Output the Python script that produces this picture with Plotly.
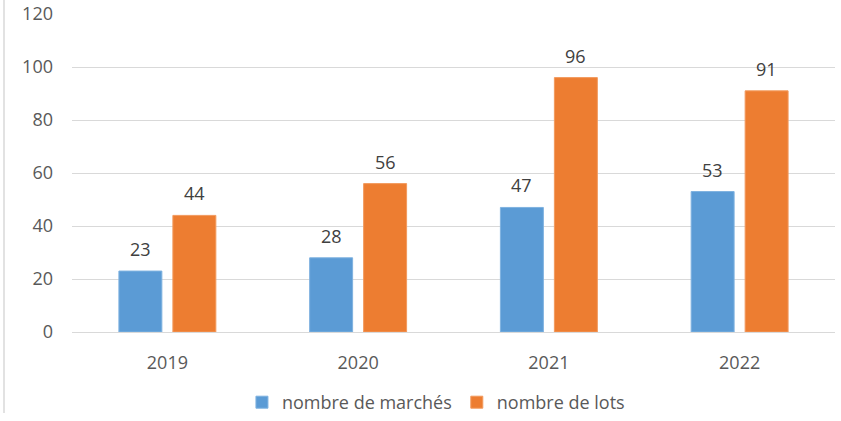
import plotly.graph_objects as go

years = ["2019", "2020", "2021", "2022"]
marches = [23, 28, 47, 53]
lots = [44, 56, 96, 91]
series_names = ["nombre de marchés", "nombre de lots"]
y_ticks = [0, 20, 40, 60, 80, 100, 120]

FONT = "Open Sans, Liberation Sans, sans-serif"
BARGAP = 0.434
W, H = 841, 421
L, R, T, B_AXIS = 72, 6, 14, 332  # plot area in page px

fig = go.Figure()
fig.add_trace(go.Bar(
    x=years, y=marches, name=series_names[0],
    marker=dict(color="#5B9BD5", line=dict(color="#7FB2E0", width=1)),
))
fig.add_trace(go.Bar(
    x=years, y=lots, name=series_names[1],
    marker=dict(color="#ED7D31", line=dict(color="#F29A5E", width=1)),
))

# value labels above bars (positions from the data via the axes)
annotations = []
off = (1 - BARGAP) / 4
for k, vals in enumerate([marches, lots]):
    sign = -1 if k == 0 else 1
    for i, v in enumerate(vals):
        annotations.append(dict(
            xref="x", yref="y", x=i + sign * off, y=v, text=str(v),
            showarrow=False, yshift=22, yanchor="middle", xanchor="center",
            font=dict(size=18, color="#404040", family=FONT),
        ))

plot_h = H - T
fig.update_layout(
    width=W, height=H,
    margin=dict(l=L, r=R, t=T, b=0),
    paper_bgcolor="white", plot_bgcolor="white",
    barmode="group", bargap=BARGAP, bargroupgap=0.204,
    font=dict(family=FONT, size=18, color="#595959"),
    showlegend=True,
    legend=dict(orientation="h", x=0.477, xanchor="center",
                y=0, yanchor="bottom",
                font=dict(size=18, color="#595959"), itemwidth=30, traceorder="normal"),
    annotations=annotations,
    shapes=[dict(type="line", xref="paper", yref="paper",
                 x0=(4 - L) / (W - L - R), x1=(4 - L) / (W - L - R),
                 y0=(H - 413) / plot_h, y1=1 + T / plot_h,
                 line=dict(color="#D9D9D9", width=1.5))],
)
fig.update_xaxes(showgrid=False, showline=False, zeroline=False, ticks="",
                 ticklabelstandoff=18, tickfont=dict(size=18, color="#595959"),
                 automargin=False)
fig.update_yaxes(range=[0, 120], tickvals=y_ticks, domain=[(H - B_AXIS) / plot_h, 1],
                 showgrid=True, gridcolor="#D9D9D9",
                 gridwidth=1, zeroline=True, zerolinecolor="#D9D9D9", zerolinewidth=1,
                 showline=False, ticks="", ticklabelstandoff=18,
                 tickfont=dict(size=18, color="#595959"), automargin=False)

fig.write_html("out.html", config={"displayModeBar": False},
               post_script="document.body.style.margin='0';document.body.style.overflow='hidden';")
